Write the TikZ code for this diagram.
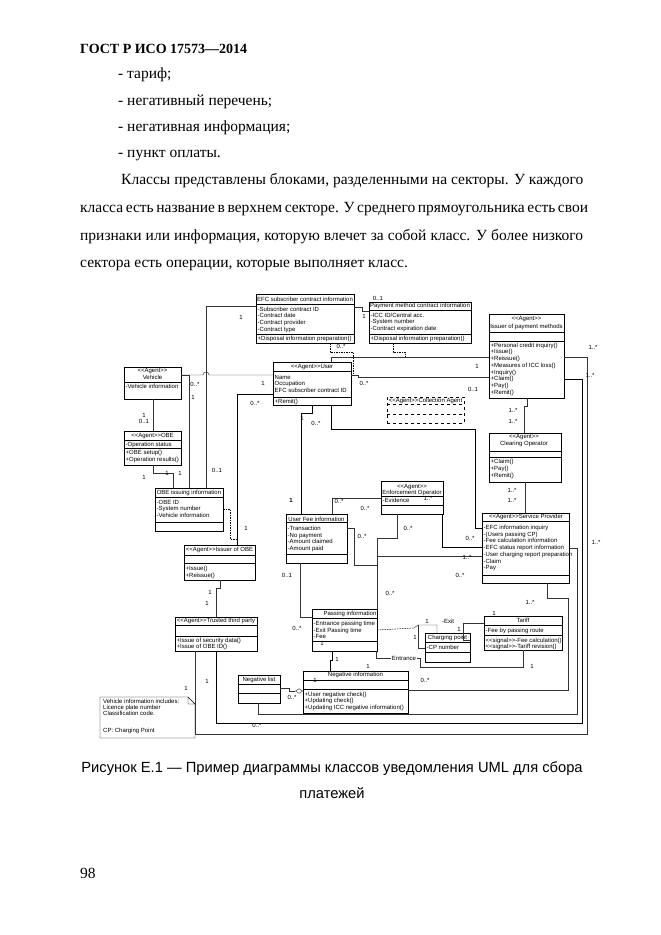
\documentclass[tikz,border=0pt]{standalone}
\usepackage{fontspec}
\setmainfont{Liberation Serif}
\setsansfont{Liberation Sans}
\usetikzlibrary{arrows.meta}
\newcommand\dgfont{\sffamily\fontsize{6}{6.7}\selectfont}
\newcommand\agt{<{}<Agent>{}>}
\newcommand\sgn{<{}<signal>{}>}
\tikzset{
    cls/.style={draw, rectangle, line width=.55pt, inner sep=0pt, outer sep=0pt, anchor=north west},
    ttl/.style={inner sep=0pt, font=\dgfont},
    rows/.style={inner sep=0pt, anchor=north west, align=left, font=\dgfont},
    mult/.style={inner sep=0pt, font=\dgfont},
    divider/.style={line width=.55pt},
    assoc/.style={line width=.45pt, black!80},
    strong/.style={line width=1pt},
    dep/.style={line width=.5pt, dash pattern=on 1.5pt off 1pt},
    body/.style={inner sep=0pt, anchor=base west, font=\fontsize{15.5}{18}\selectfont},
    capt/.style={inner sep=0pt, anchor=base, font=\sffamily\fontsize{14.7}{18}\selectfont},
}
\begin{document}
\begin{tikzpicture}[x=1pt,y=-1pt]
\fill[white] (0,0) rectangle (661,935);
\useasboundingbox (0,0) rectangle (661,935);

% page text
\node[inner sep=0pt, anchor=base west, font=\bfseries\fontsize{14}{16}\selectfont] (hdr) at (80,53) {ГОСТ Р ИСО 17573—2014};
\node[body] (it1) at (118,78) {- тариф;};
\node[body] (it2) at (118,105) {- негативный перечень;};
\node[body] (it3) at (118,131) {- негативная информация;};
\node[body] (it4) at (118,157) {- пункт оплаты.};
\node[body] (par1) at (121,184) {\makebox[462pt][s]{Классы представлены блоками, разделенными на секторы. У каждого}};
\node[body] (par2) at (80,212) {\makebox[503pt][s]{класса есть название в верхнем секторе. У среднего прямоугольника есть свои}};
\node[body] (par3) at (80,240) {\makebox[503pt][s]{признаки или информация, которую влечет за собой класс. У более низкого}};
\node[body] (par4) at (80,267) {сектора есть операции, которые выполняет класс.};

% EFC subscriber contract information
\node[cls, minimum width=98pt, minimum height=49pt] (efc) at (256,294) {};
\node[ttl] (efc-n) at (305,299) {EFC subscriber contract information};
\node[rows] (efc-a) at (257.5,306.7) {-Subscriber contract ID\\-Contract date\\-Contract provider\\-Contract type};
\node[rows] (efc-o) at (257.5,336.2) {+Disposal information preparation()};
\draw[divider] (256,304) -- (354,304) (256,334) -- (354,334);

% Payment method contract information
\node[cls, minimum width=102pt, minimum height=41pt] (pmc) at (369,302) {};
\node[ttl] (pmc-n) at (420,306) {Payment method contract information};
\node[rows] (pmc-a) at (370.5,312.7) {-ICC ID/Central acc.\\-System number\\-Contract expiration date};
\node[rows] (pmc-o) at (370.5,336.2) {+Disposal information preparation()};
\draw[divider] (369,310) -- (471,310) (369,334) -- (471,334);

% Issuer of payment methods
\node[cls, minimum width=75pt, minimum height=84pt] (ipm) at (489,314) {};
\node[ttl] (ipm-s) at (526.5,319.3) {\agt};
\node[ttl] (ipm-n) at (526.5,326.7) {Issuer of payment methods};
\node[rows] (ipm-o) at (490.5,342.7) {+Personal credit inquiry()\\+Issue()\\+Reissue()\\+Measures of ICC loss()\\+Inquiry()\\+Claim()\\+Pay()\\+Remit()};
\draw[divider] (489,332) -- (564,332) (489,341) -- (564,341);

% User
\node[cls, minimum width=78pt, minimum height=43pt] (user) at (273,362) {};
\node[ttl] (user-n) at (312,367) {\agt User};
\node[rows] (user-a) at (274.5,374.7) {Name\\Occupation\\EFC subscriber contract ID};
\node[rows] (user-o) at (274.5,398.7) {+Remit()};
\draw[divider] (273,371) -- (351,371) (273,397) -- (351,397);

% Vehicle
\node[cls, minimum width=57pt, minimum height=32pt] (veh) at (124,367) {};
\node[ttl] (veh-s) at (152.5,370.7) {\agt};
\node[ttl] (veh-n) at (152.5,377) {Vehicle};
\node[rows] (veh-a) at (125.5,384.4) {-Vehicle information};
\draw[divider] (124,382) -- (181,382);

% OBE
\node[cls, minimum width=57pt, minimum height=34pt] (obe) at (124,431) {};
\node[ttl] (obe-n) at (152.5,435.7) {\agt OBE};
\node[rows] (obe-a) at (125.5,442) {-Operation status};
\node[rows] (obe-o) at (125.5,450) {+OBE setup()\\+Operation results()};
\draw[divider] (124,440) -- (181,440) (124,448.3) -- (181,448.3);

% OBE issuing information
\node[cls, minimum width=68pt, minimum height=43pt] (obei) at (155,488) {};
\node[ttl] (obei-n) at (189,492.7) {OBE issuing information};
\node[rows] (obei-a) at (156.5,499.7) {-OBE ID\\-System number\\-Vehicle information};
\draw[divider] (155,497) -- (223,497) (155,522) -- (223,522);

% Issuer of OBE
\node[cls, minimum width=71pt, minimum height=35pt] (iobe) at (184,545) {};
\node[ttl] (iobe-n) at (219.5,550) {\agt Issuer of OBE};
\node[rows] (iobe-o) at (185.5,566) {+Issue()\\+Reissue()};
\draw[divider] (184,555) -- (255,555) (184,563) -- (255,563);

% Trusted third party
\node[cls, minimum width=82pt, minimum height=34pt] (ttp) at (175,617) {};
\node[ttl] (ttp-n) at (216,621.3) {\agt Trusted third party};
\node[rows] (ttp-o) at (176.5,637.7) {+Issue of security data()\\+Issue of OBE ID()};
\draw[divider] (175,625) -- (257,625) (175,636) -- (257,636);

% note
\draw[line width=.45pt] (100,697) -- (188,697) -- (195,704) -- (195,738) -- (100,738) -- cycle
    (188,697) -- (188,704) -- (195,704);
\node[rows, font=\sffamily\fontsize{6}{6}\selectfont] (note-t) at (103,699.4) {Vehicle information includes:\\Licence plate number\\Classification code.};
\node[rows] (note-cp) at (103,727.7) {CP: Charging Point};

% Collection Agent
\node[cls, dashed, minimum width=77pt, minimum height=26pt] (coll) at (387,397) {};
\node[ttl] (coll-n) at (425.5,400.5) {\agt Collection Agent};
\draw[divider, dashed] (387,404) -- (464,404) (387,414.3) -- (464,414.3);

% Clearing Operator
\node[cls, minimum width=72pt, minimum height=49pt] (clr) at (489,433) {};
\node[ttl] (clr-s) at (524,437) {\agt};
\node[ttl] (clr-n) at (524,443.5) {Clearing Operator};
\node[rows] (clr-o) at (490.5,459.4) {+Claim()\\+Pay()\\+Remit()};
\draw[divider] (489,451.7) -- (561,451.7) (489,457.3) -- (561,457.3);

% Enforcement Operator
\node[cls, minimum width=62pt, minimum height=33pt] (enf) at (381,481) {};
\node[ttl] (enf-s) at (412,486.7) {\agt};
\node[ttl] (enf-n) at (412,493.3) {Enforcement Operator};
\node[rows] (enf-a) at (382.5,498.4) {-Evidence};
\draw[divider] (381,496.7) -- (443,496.7) (381,505) -- (443,505);

% User Fee information
\node[cls, minimum width=61pt, minimum height=49pt] (ufee) at (286,514) {};
\node[ttl] (ufee-n) at (316.5,519.3) {User Fee information};
\node[rows] (ufee-a) at (287.5,526) {-Transaction\\-No payment\\-Amount claimed\\-Amount paid};
\draw[divider] (286,522.3) -- (347,522.3) (286,554) -- (347,554);

% Service Provider
\node[cls, minimum width=87pt, minimum height=70pt] (sp) at (482,513) {};
\node[ttl] (sp-n) at (526,517.3) {\agt Service Provider};
\node[rows] (sp-a) at (483.5,525) {-EFC information inquiry\\-(Users passing CP)\\-Fee calculation information\\-EFC status report information\\-User charging report preparation\\-Claim\\-Pay};
\draw[divider] (482,521.7) -- (569,521.7) (482,575) -- (569,575);

% Passing information
\node[cls, minimum width=65pt, minimum height=42pt] (pass) at (312,609) {};
\node[ttl] (pass-n) at (350,614) {Passing information};
\node[rows] (pass-a) at (313.5,621) {-Entrance passing time\\-Exit Passing time\\-Fee};
\draw[divider] (312,618.3) -- (377,618.3) (312,641) -- (377,641);

% Charging point
\node[cls, minimum width=45pt, minimum height=29pt] (cp) at (425,633) {};
\node[ttl] (cp-n) at (447.5,638) {Charging point};
\node[rows] (cp-a) at (426.5,645.2) {-CP number};
\draw[divider] (425,642.7) -- (470,642.7) (425,652.7) -- (470,652.7);

% Tariff
\node[cls, minimum width=78pt, minimum height=34pt] (tariff) at (484,616) {};
\node[ttl] (tariff-n) at (523,620) {Tariff};
\node[rows] (tariff-a) at (485.5,627.7) {-Fee by passing route};
\node[rows] (tariff-o) at (485.5,637.7) {\sgn-Fee calculation()\\\sgn-Tariff revision()};
\draw[divider] (484,625) -- (562,625) (484,635) -- (562,635);

% Negative list
\node[cls, minimum width=42pt, minimum height=28pt] (nlist) at (238,675) {};
\node[ttl] (nlist-n) at (259,679.5) {Negative list};
\draw[divider] (238,684) -- (280,684) (238,693.3) -- (280,693.3);

% Negative information
\node[cls, minimum width=105pt, minimum height=42pt] (ninfo) at (303,671) {};
\node[ttl] (ninfo-n) at (355.5,675.3) {Negative information};
\node[rows] (ninfo-o) at (304.5,691.7) {+User negative check()\\+Updating check()\\+Updating ICC negative information()};
\draw[divider] (303,680) -- (408,680) (303,689.5) -- (408,689.5);

% connectors
\coordinate (cpj) at (414,628);
\coordinate (pfj) at (377,565);
\draw[assoc] (efc.west |- 0,306) -- (206,306) -- (206,0 |- obei.north);
\draw[assoc] (efc.east |- 0,307) -- (362,307) -- (362,311) -- (pmc.west |- 0,311);
\draw[dep] (330,0 |- efc.south) -- (330,352) -- (353,352) -- (353,373);
\draw[assoc] (veh.east |- 0,375) -- (203,375) arc[start angle=180, end angle=0, radius=3pt] -- (user.west |- 0,375);
\draw[assoc] (veh.east |- 0,375) -- (189,375) -- (189,0 |- obei.north);
\draw[assoc] (user.east |- 0,375) -- (358,375) -- (358,377) -- (ipm.west |- 0,377);
\draw[assoc] (331,0 |- user.north) -- (331,357) -- (ipm.west |- 0,357);
\draw[dep] (393,0 |- pmc.south) -- (393,352) -- (405,352) -- (405,357);
\draw[strong] (user.west |- 0,394) -- (237,394) -- (237,0 |- iobe.north);
\draw[dep] (obei.east |- 0,509) -- (230,509) -- (230,539) -- (237,539);
\draw[strong] (312,0 |- user.south) -- (312,413) -- (301,413) -- (301,0 |- ufee.north);
\draw[strong] (331,0 |- user.south) -- (331,429) -- (475,429) -- (475,528) -- (sp.west |- 0,528);
\draw[assoc] (153,0 |- veh.south) -- (153,0 |- obe.north);
\draw[assoc] (153,0 |- obe.south) -- (153,473) -- (173,473) -- (173,0 |- obei.north);
\draw[assoc] (220,0 |- iobe.south) -- (220,588) -- (216,588) -- (216,0 |- ttp.north);
\draw[assoc] (527,0 |- ipm.south) -- (527,406) -- (524,406) -- (524,0 |- clr.north);
\draw[assoc] (525,0 |- clr.south) -- (525,0 |- sp.north);
\draw[assoc] (332,0 |- ufee.north) -- (332,498) -- (enf.west |- 0,498);
\draw[strong] (442,0 |- enf.south) -- (442,547) -- (sp.west |- 0,547);
\draw[assoc] (397,0 |- enf.south) -- (397,538) -- (377,538) -- (377,0 |- pass.north);
\draw[assoc] (377,0 |- pass.north) -- (377,556) -- (sp.west |- 0,556);
\draw[assoc] (ufee.east |- 0,528) -- (354,528) -- (354,565) -- (pfj);
\draw[assoc] (300,0 |- ufee.south) -- (300,617) -- (pass.west |- 0,617);
\draw[strong] (332,0 |- pass.south) -- (332,660) -- (330,660) -- (330,0 |- ninfo.north);
\draw[assoc] (376,0 |- pass.south) -- (376,658) -- (420,658) -- (420,667) -- (523,667) -- (523,0 |- tariff.south);
\draw[dep] (pass.east |- 0,630) -- (cpj);
\draw[assoc] (cpj) -- (418,625) -- (437,625) -- (437,0 |- cp.north);
\draw[assoc] (418,625) -- (418,648) -- (cp.west |- 0,648);
\draw[assoc] (tariff.west |- 0,623) -- (463,623) -- (463,640) -- (cp.east |- 0,640);
\draw[assoc] (547,0 |- sp.south) -- (547,598) -- (568,598) -- (568,690) -- (ninfo.east |- 0,690);
\draw[assoc, -{Diamond[open, length=8pt, width=5pt]}] (nlist.east |- 0,688) -- (289,688) -- (289,691) -- (ninfo.west |- 0,691);
\draw[assoc] (258,0 |- nlist.south) -- (258,714) -- (577,714) -- (577,548) -- (sp.east |- 0,548);
\draw[strong] (216,0 |- ttp.south) -- (216,723) -- (582,723) -- (582,379) -- (ipm.east |- 0,379);
\draw[assoc] (195,0 |- ttp.south) -- (195,734) -- (587,734) -- (587,357) -- (ipm.east |- 0,357);

% multiplicities
\foreach \x/\y/\m [count=\i] in {378/298/0..1, 364/316/1, 241/317/1, 341/346/0..*, 195/384/0..*,
    263/383/1, 193/397/1, 255/403/0..*, 144/415/1, 144/421/0..1, 364/383/0..*, 477/366/1,
    473/389/0..1, 302/418/1, 316/423/0..*, 513/410/1..*, 513/421/1..*, 217/470/0..1, 144/477/1,
    167/473/1, 180/473/1, 512/490/1..*, 512/500/1..*, 339/501/0..*, 365/508/0..*, 428/498/1..*,
    246/528/1, 408/528/0..*, 362/536/0..*, 470/538/0..*, 467/557/1..*, 460/575/0..*, 287/575/0..1,
    210/592/1, 207/603/1, 390/593/0..*, 530/602/1..*, 494/613/1, 427/621/1, 448/621/-Exit,
    297/628/0..*, 459/629/1, 415/637/1, 322/643/1, 337/659/1, 532/666/1, 368/666/1, 425/680/0..*,
    315/680/1, 207/681/1, 186/688/1, 292/697/0..*, 257/725/0..*, 593/347/1..*, 590/375/1..*,
    596/542/1..*}
    \node[mult] (m\i) at (\x,\y) {\m};
\node[mult, font=\dgfont\bfseries] (mb) at (291,500) {1};
\node[mult, fill=white, inner sep=.5pt] (ent) at (404,658) {Entrance};

% caption
\node[capt] (cap1) at (332,772) {Рисунок Е.1 — Пример диаграммы классов уведомления UML для сбора};
\node[capt] (cap2) at (332,798) {платежей};
\node[body] (pg) at (80,878) {98};
\end{tikzpicture}
\end{document}
